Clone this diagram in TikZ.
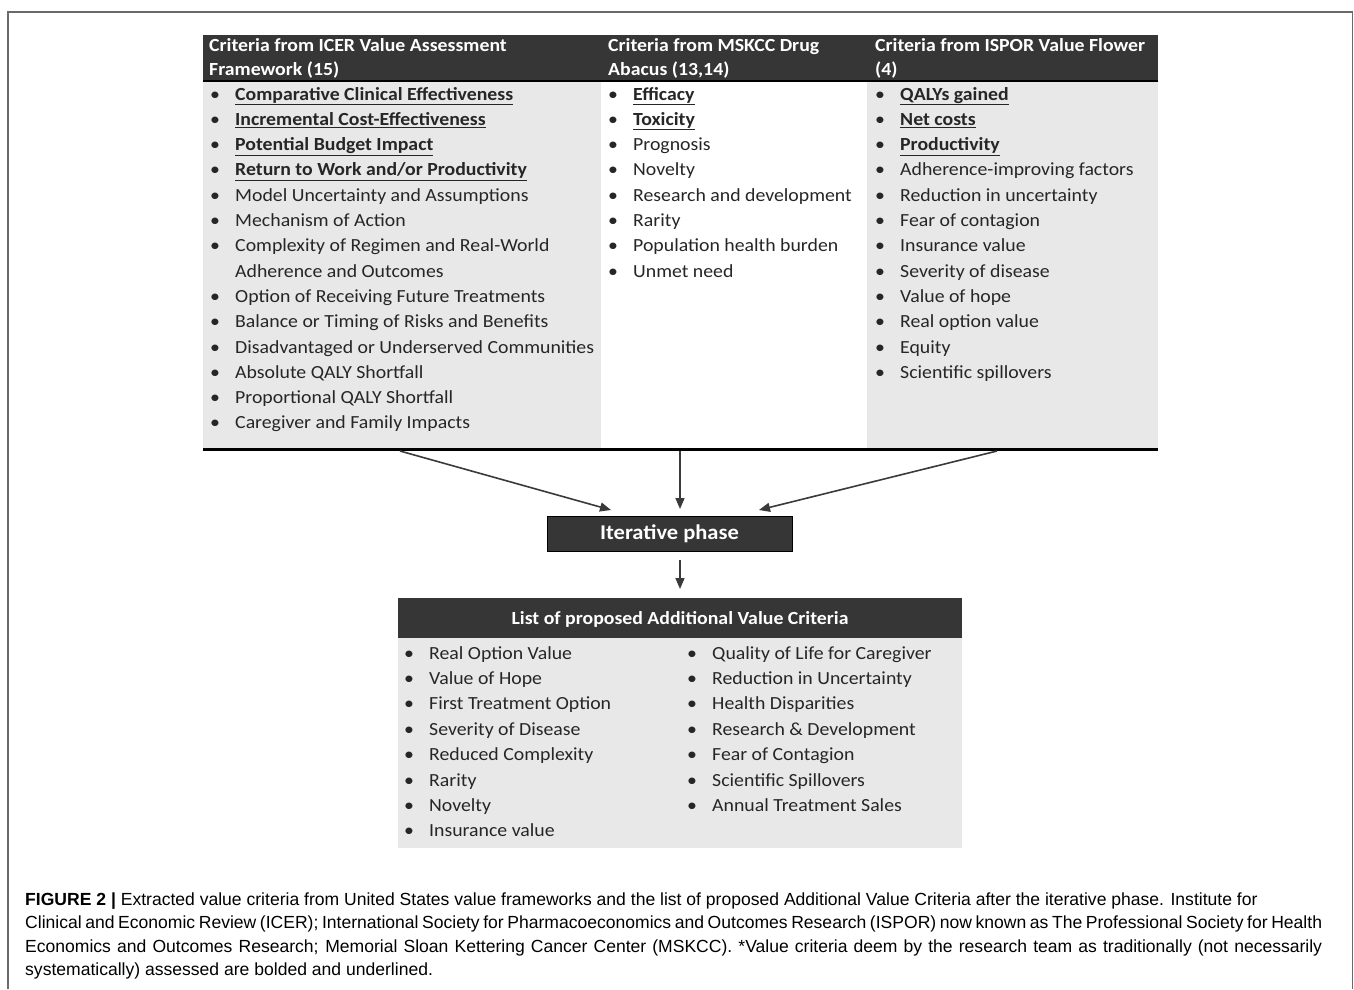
\documentclass[tikz,border=0pt]{standalone}
\usepackage{fontspec}
\setmainfont{Carlito}[FakeStretch=1.07]
\newfontfamily\capfont{Liberation Sans}
\usetikzlibrary{arrows.meta}
\definecolor{hdr}{HTML}{363636}
\definecolor{bodyc}{HTML}{E8E8E8}
\definecolor{txt}{HTML}{262626}
\definecolor{arr}{HTML}{3A3A3A}
\definecolor{frame}{HTML}{6A6A6A}
\newcommand\bu[1]{\underline{\textbf{#1}}}
\begin{document}
\begin{tikzpicture}[x=1pt,y=-1pt,
  itm/.style={font=\fontsize{18.5}{20}\selectfont, text=txt, inner sep=0pt, anchor=base west},
  hd/.style={font=\fontsize{18.5}{20}\selectfont\bfseries, text=white, inner sep=0pt, anchor=base west},
  arrowc/.style={draw=arr, line width=1.6pt, -{Triangle[length=11pt,width=9pt]}},
  captxt/.style={font=\capfont\fontsize{17.55}{20}\selectfont, text=black, inner sep=0pt, anchor=base west}]
\useasboundingbox (0,0) rectangle (1354,989);
\draw[frame, line width=1.3pt] (8,989) -- (8,12) -- (1352.5,12) -- (1352.5,989);

% ---------- top table ----------
\fill[bodyc] (203,81) rectangle (601,449);
\fill[bodyc] (867,81) rectangle (1158,449);
\fill[hdr] (203,35) rectangle (1158,81);
\draw[black, line width=2.5pt] (203,81) -- (1158,81);
\draw[black, line width=3pt] (203,449) -- (1158,449);

\node[hd] (h1a) at (209,51) {Criteria from ICER Value Assessment};
\node[hd] (h1b) at (209,75) {Framework (15)};
\node[hd] (h2a) at (608,51) {Criteria from MSKCC Drug};
\node[hd] (h2b) at (608,75) {Abacus (13,14)};
\node[hd] (h3a) at (875,51) {Criteria from ISPOR Value Flower};
\node[hd] (h3b) at (875,75) {(4)};

\foreach \t [count=\i] in {{\bu{Comparative Clinical Effectiveness}},{\bu{Incremental Cost-Effectiveness}},{\bu{Potential Budget Impact}},{\bu{Return to Work and/or Productivity}},Model Uncertainty and Assumptions,Mechanism of Action,Complexity of Regimen and Real-World,Adherence and Outcomes,Option of Receiving Future Treatments,Balance or Timing of Risks and Benefits,Disadvantaged or Underserved Communities,Absolute QALY Shortfall,Proportional QALY Shortfall,Caregiver and Family Impacts}
  \node[itm] (c1t\i) at (235,{100+25.3*(\i-1)}) {\t};
\foreach \i in {1,2,3,4,5,6,7,9,10,11,12,13,14}
  \node[itm] (c1b\i) at (210,{100+25.3*(\i-1)}) {•};

\foreach \t [count=\i] in {{\bu{Efficacy}},{\bu{Toxicity}},Prognosis,Novelty,Research and development,Rarity,Population health burden,Unmet need}
  {\node[itm] (c2t\i) at (633,{100+25.3*(\i-1)}) {\t};
   \node[itm] (c2b\i) at (608,{100+25.3*(\i-1)}) {•};}

\foreach \t [count=\i] in {{\bu{QALYs gained}},{\bu{Net costs}},{\bu{Productivity}},Adherence-improving factors,Reduction in uncertainty,Fear of contagion,Insurance value,Severity of disease,Value of hope,Real option value,Equity,Scientific spillovers}
  {\node[itm] (c3t\i) at (900,{100+25.3*(\i-1)}) {\t};
   \node[itm] (c3b\i) at (875,{100+25.3*(\i-1)}) {•};}

% ---------- arrows and iterative phase ----------
\node[fill=hdr, draw=black, line width=0.8pt, minimum width=245pt, minimum height=35pt, inner sep=0pt,
      text=white, font=\fontsize{21}{22}\selectfont\bfseries] (iter) at (669.5,533.5) {Iterative phase};
\coordinate (s1) at (400,451);
\coordinate (s2) at (680,451);
\coordinate (s3) at (997,451);
\coordinate (e1) at (611,510);
\coordinate (e2) at (680,509);
\coordinate (e3) at (759,510);
\draw[arrowc] (s1) -- (e1);
\draw[arrowc] (s2) -- (e2);
\draw[arrowc] (s3) -- (e3);
\coordinate (d1) at (680,560);
\coordinate (d2) at (680,589);
\draw[arrowc] (d1) -- (d2);

% ---------- bottom box ----------
\fill[bodyc] (398,638) rectangle (962,848);
\fill[hdr] (398,598) rectangle (962,638);
\node[text=white, inner sep=0pt, font=\fontsize{18.5}{20}\selectfont\bfseries] (lh) at (680,619) {List of proposed Additional Value Criteria};

\foreach \t [count=\i] in {Real Option Value,Value of Hope,First Treatment Option,Severity of Disease,Reduced Complexity,Rarity,Novelty,Insurance value}
  {\node[itm] (l1t\i) at (429,{659+25.4*(\i-1)}) {\t};
   \node[itm] (l1b\i) at (404,{659+25.4*(\i-1)}) {•};}
\foreach \t [count=\i] in {Quality of Life for Caregiver,Reduction in Uncertainty,Health Disparities,Research \& Development,Fear of Contagion,Scientific Spillovers,Annual Treatment Sales}
  {\node[itm] (l2t\i) at (712,{659+25.4*(\i-1)}) {\t};
   \node[itm] (l2b\i) at (687,{659+25.4*(\i-1)}) {•};}

% ---------- caption ----------
\node[captxt] (cap1) at (25,905) {\textbf{FIGURE 2 |} Extracted value criteria from United States value frameworks and the list of proposed Additional Value Criteria after the iterative phase. Institute for};
\node[captxt] (cap2) at (25,928) {\makebox[1297pt][s]{Clinical and Economic Review (ICER); International Society for Pharmacoeconomics and Outcomes Research (ISPOR) now known as The Professional Society for Health}};
\node[captxt] (cap3) at (25,952) {\makebox[1297pt][s]{Economics and Outcomes Research; Memorial Sloan Kettering Cancer Center (MSKCC). *Value criteria deem by the research team as traditionally (not necessarily}};
\node[captxt] (cap4) at (25,975) {systematically) assessed are bolded and underlined.};
\end{tikzpicture}
\end{document}
